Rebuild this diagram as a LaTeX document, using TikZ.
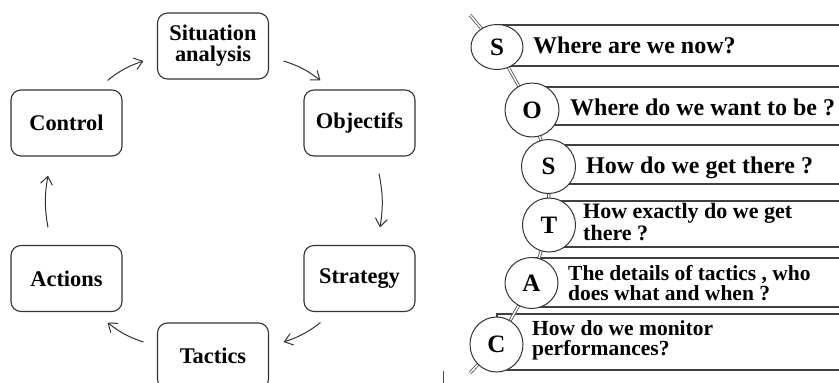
\documentclass[tikz,border=0pt]{standalone}
\usepackage{fontspec}
\setmainfont{Liberation Serif}
\usetikzlibrary{arrows.meta,shapes.geometric,calc}
\begin{document}
\begin{tikzpicture}[x=1pt,y=-1pt,
  stage/.style={draw=black!80, line width=1.1pt, rounded corners=10pt,
    minimum width=111pt, minimum height=66pt, align=center, inner sep=2pt,
    font=\fontsize{22.4}{21}\selectfont\bfseries},
  flow/.style={draw=black!80, line width=1pt,
    -{Straight Barb[length=8pt,width=12pt]}},
  band/.style={draw=black!75, line width=1.2pt, fill=white},
  letter/.style={ellipse, draw=black!80, line width=1pt, fill=white, inner sep=0pt,
    font=\fontsize{25}{25}\selectfont\bfseries},
  bigq/.style={anchor=base west, inner sep=0pt, font=\fontsize{24}{24}\selectfont\bfseries},
  smallq/.style={anchor=west, align=left, inner sep=0pt},
  rod/.style={draw=black!70, double=white, line width=0.8pt, double distance=1.5pt}
]
\useasboundingbox (0,0) rectangle (839,383);
\clip (0,0) rectangle (839,383);

% ---------- planning cycle ----------
\node[stage] (sit) at (213,46)      {Situation\\analysis};
\node[stage] (obj) at (359.5,123)   {Objectifs};
\node[stage] (str) at (359.5,278.5) {Strategy};
\node[stage] (tac) at (213,356)     {Tactics};
\node[stage] (act) at (66.5,278.5)  {Actions};
\node[stage] (ctl) at (66.5,123)    {Control};

\coordinate (c1)  at ($(ctl.north east)+(-15,-9)$);
\coordinate (c2)  at ($(sit.west)+(-13.5,15)$);
\coordinate (c3)  at ($(sit.east)+(14.5,15)$);
\coordinate (c4)  at ($(obj.north west)+(17,-9)$);
\coordinate (c5)  at ($(obj.south)+(19.5,17)$);
\coordinate (c6)  at ($(str.north)+(20.5,-17.5)$);
\coordinate (c7)  at ($(str.south west)+(17,10.5)$);
\coordinate (c8)  at ($(tac.east)+(14.5,-14)$);
\coordinate (c9)  at ($(tac.west)+(-13.5,-14)$);
\coordinate (c10) at ($(act.south east)+(-15,10.5)$);
\coordinate (c11) at ($(act.north)+(-18.5,-17.5)$);
\coordinate (c12) at ($(ctl.south)+(-18.5,19)$);

\draw[flow] (c1)  to[bend left=10] (c2);
\draw[flow] (c3)  to[bend left=10] (c4);
\draw[flow] (c5)  to[bend left=10] (c6);
\draw[flow] (c7)  to[bend left=10] (c8);
\draw[flow] (c9)  to[bend left=10] (c10);
\draw[flow] (c11) to[bend left=10] (c12);

% ---------- SOSTAC ladder ----------
\draw[band] (497,25)  rectangle (860,66);
\draw[band] (532,87)  rectangle (860,125);
\draw[band] (548,145) rectangle (860,184);
\draw[band] (549,201) rectangle (860,247);
\draw[band] (531,258) rectangle (860,307);
\draw[band] (497,314) rectangle (860,370);

\coordinate (rtop) at (470,15);
\coordinate (p1) at (497,47);
\coordinate (p2) at (532,110);
\coordinate (p3) at (548.5,166.5);
\coordinate (p4) at (549,225);
\coordinate (p5) at (531.5,283);
\coordinate (p6) at (496.5,344.5);
\coordinate (rbot) at (470,373);
\draw[rod] (rtop) -- (p1) -- (p2) -- (p3) -- (p4) -- (p5) -- (p6) -- (rbot);

\node[letter, minimum width=52pt, minimum height=45pt] (s1) at (p1) {S};
\node[letter, minimum width=54pt, minimum height=54pt] (o)  at (p2) {O};
\node[letter, minimum width=54pt, minimum height=54pt] (s2) at (p3) {S};
\node[letter, minimum width=53pt, minimum height=54pt] (t)  at (p4) {T};
\node[letter, minimum width=53pt, minimum height=51pt] (a)  at (p5) {A};
\node[letter, minimum width=53pt, minimum height=55pt] (c)  at (p6) {C};

\node[bigq] (q1) at (533,53)  {Where are we now?};
\node[bigq] (q2) at (570,115) {Where do we want to be ?};
\node[bigq] (q3) at (586,173) {How do we get there ?};
\node[smallq, font=\fontsize{22}{22}\selectfont\bfseries] (q4) at (583,222)
  {How exactly do we get\\there ?};
\node[smallq, font=\fontsize{21.5}{20}\selectfont\bfseries] (q5) at (568,283)
  {The details of tactics , who\\does what and when ?};
\node[smallq, font=\fontsize{21.5}{20}\selectfont\bfseries] (q6) at (532,340)
  {How do we monitor\\performances?};

% small mark at the bottom edge
\coordinate (m1) at (443,371);
\coordinate (m2) at (443,384);
\draw[black!70, line width=1pt] (m1) -- (m2);
\end{tikzpicture}
\end{document}
